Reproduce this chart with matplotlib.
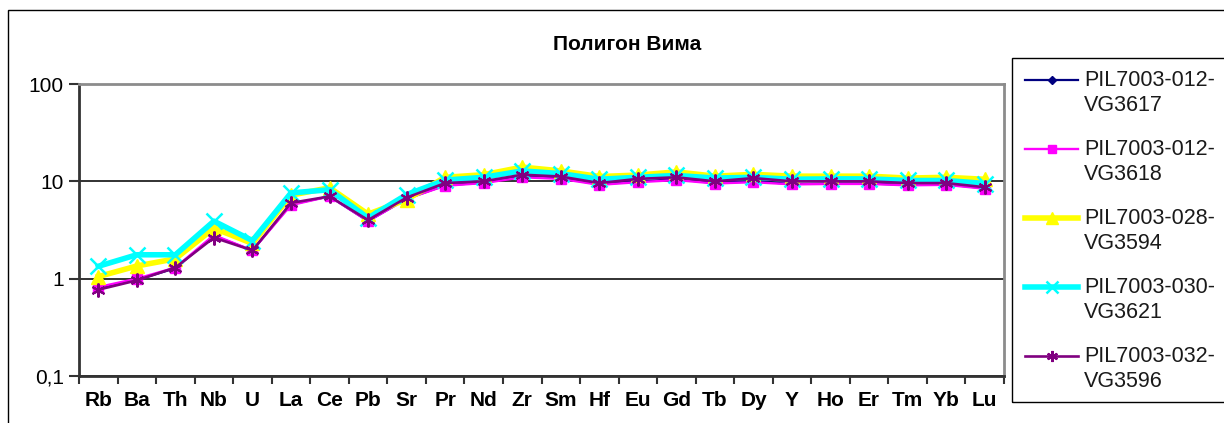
import matplotlib
matplotlib.use("Agg")
import matplotlib.pyplot as plt
from matplotlib.lines import Line2D
from matplotlib.patches import Rectangle
from matplotlib.ticker import FixedLocator, FuncFormatter, NullLocator

plt.rcParams['font.family'] = ['Liberation Sans', 'DejaVu Sans']

elements = ["Rb", "Ba", "Th", "Nb", "U", "La", "Ce", "Pb", "Sr", "Pr", "Nd", "Zr",
            "Sm", "Hf", "Eu", "Gd", "Tb", "Dy", "Y", "Ho", "Er", "Tm", "Yb", "Lu"]

s_vg3617 = [0.80, 0.97, 1.28, 2.75, 1.95, 5.8, 7.0, 3.9, 6.6, 9.1, 9.7, 11.2,
            10.8, 9.3, 10.0, 10.5, 9.6, 10.0, 9.4, 9.5, 9.5, 9.2, 9.3, 8.5]
s_vg3618 = [0.82, 1.00, 1.30, 2.80, 1.95, 5.7, 7.0, 3.9, 6.6, 9.0, 9.6, 11.0,
            10.6, 9.2, 9.8, 10.3, 9.5, 9.8, 9.3, 9.4, 9.4, 9.1, 9.2, 8.4]
s_vg3594 = [1.05, 1.35, 1.60, 3.30, 2.30, 7.2, 8.6, 4.6, 6.5, 11.0, 11.7, 14.0,
            12.8, 11.2, 11.6, 12.5, 11.3, 11.8, 11.3, 11.3, 11.3, 10.8, 11.0, 10.5]
s_vg3621 = [1.34, 1.76, 1.76, 3.90, 2.46, 7.6, 8.2, 4.2, 7.3, 10.3, 11.0, 12.8,
            12.0, 10.5, 11.0, 11.5, 10.8, 11.0, 10.5, 10.6, 10.6, 10.2, 10.2, 9.5]
s_vg3596 = [0.77, 0.96, 1.30, 2.64, 1.95, 6.0, 7.0, 4.0, 6.8, 9.6, 10.0, 11.7,
            11.2, 9.6, 10.6, 11.0, 10.0, 10.8, 10.0, 10.0, 10.0, 9.6, 9.6, 8.7]

labels = ["PIL7003-012-\nVG3617", "PIL7003-012-\nVG3618", "PIL7003-028-\nVG3594",
          "PIL7003-030-\nVG3621", "PIL7003-032-\nVG3596"]

W, H = 1224, 423
fig = plt.figure(figsize=(W / 100, H / 100), dpi=100)

# outer chart frame (runs off the right and bottom edges)
fig.patches.append(Rectangle((8 / W, -0.2), 1.2, 1.2 - 10 / H,
                             transform=fig.transFigure, fill=False,
                             edgecolor='black', lw=1.0))

ax = fig.add_axes([79 / W, 1 - 376 / H, (1004 - 79) / W, (376 - 84) / H])
x = list(range(len(elements)))

styles = [
    dict(color='#000080', lw=1.6, marker='D', ms=5, mec='#000080', mfc='#000080'),
    dict(color='#FF00FF', lw=1.7, marker='s', ms=7.5, mec='#FF00FF', mfc='#FF00FF'),
    dict(color='#FFFF00', lw=4.0, marker='^', ms=10, mec='#FFFF00', mfc='#FFFF00'),
    dict(color='#00FFFF', lw=4.0, marker='x', ms=11, mew=1.8, mec='#00FFFF'),
    dict(color='#800080', lw=1.9, marker=(6, 2, 0), ms=10, mew=1.5, mec='#800080'),
]
series = [s_vg3617, s_vg3618, s_vg3594, s_vg3621, s_vg3596]

handles = []
for vals, st in zip(series, styles):
    ln, = ax.plot(x, vals, zorder=3, **st)
    handles.append(ln)

ax.set_yscale('log')
ax.set_ylim(0.1, 100)
ax.set_xlim(-0.5, len(elements) - 0.5)

ax.yaxis.set_major_locator(FixedLocator([0.1, 1, 10, 100]))
ax.yaxis.set_minor_locator(NullLocator())
ax.yaxis.set_major_formatter(FuncFormatter(
    lambda v, p: ('%g' % v).replace('.', ',')))
ax.tick_params(axis='y', which='major', length=7, width=1.5, color='#333333',
               labelsize=15, pad=4)
ax.yaxis.grid(True, color='#222222', lw=1.3)
ax.set_axisbelow(True)

ax.set_xticks(x)
ax.set_xticklabels(elements, fontweight='bold', fontsize=15)
ax.set_xticks([i - 0.5 for i in range(len(elements) + 1)], minor=True)
ax.tick_params(axis='x', which='major', length=0, pad=11)
ax.tick_params(axis='x', which='minor', length=6, width=1.5, color='#333333')

for side in ('left', 'bottom'):
    ax.spines[side].set_color('#333333')
    ax.spines[side].set_linewidth(2.0)
for side in ('top', 'right'):
    ax.spines[side].set_color('#8c8c8c')
    ax.spines[side].set_linewidth(2.0)

fig.text(627 / W, 1 - 45 / H, "Полигон Вима", ha='center', va='center',
         fontsize=15, fontweight='bold')

# legend box
fig.patches.append(Rectangle((1012 / W, 1 - 402 / H), 0.5, (402 - 58) / H,
                             transform=fig.transFigure, fill=False,
                             edgecolor='black', lw=1.0))
for k, (h, lab) in enumerate(zip(handles, labels)):
    yc = 1 - (80 + 69 * k) / H
    fig.lines.append(Line2D([1025 / W, 1078 / W], [yc, yc], transform=fig.transFigure,
                            color=h.get_color(), lw=h.get_linewidth()))
    fig.lines.append(Line2D([1051.5 / W], [yc], transform=fig.transFigure,
                            linestyle='none', marker=h.get_marker(),
                            ms=h.get_markersize() * 0.8, mew=h.get_markeredgewidth(),
                            mec=h.get_markeredgecolor(), mfc=h.get_markerfacecolor()))
    fig.text(1084 / W, yc + 10 / H, lab, ha='left', va='top', fontsize=15.5,
             linespacing=1.25, color='#1a1a1a')

fig.savefig("out.png", dpi=100)
